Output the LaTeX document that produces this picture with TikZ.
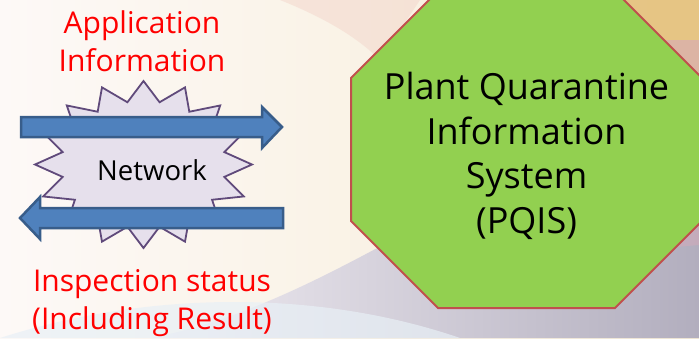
\documentclass[tikz,border=0pt]{standalone}
\usepackage{fontspec}
\setmainfont{Open Sans}
\definecolor{bgA}{RGB}{253,249,247}
\definecolor{bgB}{RGB}{246,236,214}
\definecolor{bgPink}{RGB}{240,200,190}
\definecolor{bgGold}{RGB}{226,188,112}
\definecolor{bgGrayL}{RGB}{240,236,242}
\definecolor{bgGrayR}{RGB}{178,174,190}
\definecolor{bgBlue}{RGB}{232,240,246}
\definecolor{bgRose}{RGB}{214,170,186}
\definecolor{arrFill}{RGB}{79,129,189}
\definecolor{arrLine}{RGB}{56,93,138}
\definecolor{starFill}{RGB}{230,224,236}
\definecolor{starLine}{RGB}{96,74,123}
\definecolor{octFill}{RGB}{146,208,80}
\definecolor{octLine}{RGB}{192,80,77}
\definecolor{lblRed}{RGB}{255,0,0}
\begin{document}
\begin{tikzpicture}[x=1pt,y=-1pt,
  arrowbody/.style={fill=arrFill,draw=arrLine,line width=2.5pt,line join=miter},
  starshape/.style={fill=starFill,draw=starLine,line width=1.8pt,line join=miter},
  octo/.style={fill=octFill,draw=octLine,line width=2pt,line join=miter},
  redtext/.style={text=lblRed,font=\fontsize{30}{38}\selectfont,align=center,inner sep=0pt},
  blacktext/.style={text=black,align=center,inner sep=0pt}]
\useasboundingbox (0,0) rectangle (699,338);
% background
\shade[left color=bgA,right color=bgB] (0,0) rectangle (699,338);
\fill[bgPink,opacity=0.35] (280,0) .. controls (330,20) and (360,40) .. (380,60) -- (420,0) -- cycle;
\fill[bgGold,opacity=0.8] (470,0) .. controls (560,20) and (640,50) .. (699,100) -- (699,0) -- cycle;
\fill[bgRose,opacity=0.6] (600,40) .. controls (650,60) and (680,80) .. (699,100) -- (699,40) -- cycle;
\shade[left color=bgGrayL,right color=bgGrayR] (150,338) .. controls (350,300) and (500,140) .. (699,120) -- (699,338) -- cycle;
\fill[bgRose,opacity=0.5] (640,250) .. controls (660,230) and (680,215) .. (699,205) -- (699,245) -- cycle;
\fill[bgBlue,opacity=0.7] (0,338) .. controls (150,290) and (320,290) .. (460,338) -- cycle;
% octagon
\draw[octo] (438,308) -- (615,308) -- (702,221) -- (702,78) -- (615,-9) -- (438,-9) -- (351,78) -- (351,221) -- cycle;
\node[blacktext,font=\fontsize{36}{44.7}\selectfont] (pqis) at (526.5,156) {Plant Quarantine\\Information\\System\\(PQIS)};
% star
\draw[starshape] (143.5,81) \foreach \i in {0,...,15} { -- ({143.5+108.5*cos(90+22.5*\i)},{164.5-83.5*sin(90+22.5*\i)}) -- ({143.5+0.76*108.5*cos(101.25+22.5*\i)},{164.5-0.76*83.5*sin(101.25+22.5*\i)}) } -- cycle;
\node[blacktext,font=\fontsize{27.5}{32}\selectfont,anchor=base] (net) at (152,180) {Network};
% arrows
\draw[arrowbody] (21,117) -- (262,117) -- (262,107) -- (282,127) -- (262,148) -- (262,137) -- (21,137) -- cycle;
\draw[arrowbody] (283,208) -- (40,208) -- (40,197) -- (20,218) -- (40,239) -- (40,228) -- (283,228) -- cycle;
% labels
\node[redtext] (app) at (142,41) {Application\\Information};
\node[redtext] (insp) at (152,303) {Inspection status\\(Including Result)};
\end{tikzpicture}
\end{document}
